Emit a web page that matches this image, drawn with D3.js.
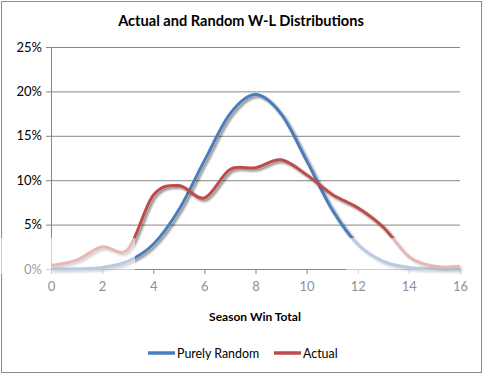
<!DOCTYPE html>
<html>
<head>
<meta charset="utf-8">
<script src="https://cdn.jsdelivr.net/npm/d3@7"></script>
<style>
body { margin: 0; background: #fff; }
svg { display: block; font-family: Lato, "Open Sans", sans-serif; }
</style>
</head>
<body>
<script>
var wins = [0, 1, 2, 3, 4, 5, 6, 7, 8, 9, 10, 11, 12, 13, 14, 15, 16];
var purelyRandom = [0.0, 0.02, 0.18, 0.85, 2.78, 6.67, 12.2, 17.46, 19.64, 17.46, 12.2, 6.67, 2.78, 0.85, 0.18, 0.02, 0.0];
var actual = [0.4, 1.0, 2.5, 2.2, 8.3, 9.4, 8.0, 11.2, 11.4, 12.3, 10.6, 8.4, 6.9, 4.7, 1.4, 0.3, 0.3];
var xTicks = [0, 2, 4, 6, 8, 10, 12, 14, 16];
var yTicks = [0, 5, 10, 15, 20, 25];

var width = 483;
var height = 375;
var padding = { top: 47, right: 23, bottom: 106, left: 51 };

var svg = d3.select("body")
    .append("svg")
    .attr("width", width)
    .attr("height", height);

var defs = svg.append("defs");
var shadow = defs.append("filter")
    .attr("id", "shadow")
    .attr("x", "-10%").attr("y", "-10%")
    .attr("width", "130%").attr("height", "130%");
shadow.append("feGaussianBlur").attr("in", "SourceAlpha").attr("stdDeviation", 1.3).attr("result", "blur");
shadow.append("feOffset").attr("in", "blur").attr("dx", 2).attr("dy", 2).attr("result", "off");
shadow.append("feComponentTransfer").attr("in", "off").attr("result", "soft")
    .append("feFuncA").attr("type", "linear").attr("slope", 0.45);
var merge = shadow.append("feMerge");
merge.append("feMergeNode").attr("in", "soft");
merge.append("feMergeNode").attr("in", "SourceGraphic");

// outer border
svg.append("rect")
    .attr("x", 1.5).attr("y", 1.5)
    .attr("width", 480).attr("height", 371)
    .attr("fill", "#fff")
    .attr("stroke", "#8a8a8a");

var xScale = d3.scaleLinear()
    .domain([0, 16])
    .range([padding.left, width - padding.right]);
var yScale = d3.scaleLinear()
    .domain([0, 25])
    .range([height - padding.bottom, padding.top]);

// title
svg.append("text")
    .attr("x", 241)
    .attr("y", 26)
    .attr("text-anchor", "middle")
    .attr("font-size", "14.6px")
    .attr("font-weight", "bold")
    .attr("fill", "#000")
    .text("Actual and Random W-L Distributions");

// y axis with gridlines
var yAxis = d3.axisLeft(yScale)
    .tickValues(yTicks)
    .tickSize(-(xScale(16) - xScale(0)))
    .tickPadding(9)
    .tickFormat(function(d) { return d + "%"; });
var yAxisG = svg.append("g")
    .attr("transform", "translate(" + padding.left + ",0)")
    .call(yAxis);
yAxisG.select(".domain").remove();
yAxisG.selectAll(".tick line")
    .attr("x1", -5)
    .attr("stroke", "#868686");
yAxisG.selectAll(".tick text")
    .attr("font-size", "13px")
    .attr("font-family", "Lato, sans-serif")
    .attr("fill", "#000");

// vertical axis line
svg.append("line")
    .attr("x1", padding.left + 0.5).attr("x2", padding.left + 0.5)
    .attr("y1", yScale(25)).attr("y2", yScale(0))
    .attr("stroke", "#868686");

// x axis
var xAxis = d3.axisBottom(xScale)
    .tickValues(xTicks)
    .tickSize(5)
    .tickPadding(8);
var xAxisG = svg.append("g")
    .attr("transform", "translate(0," + yScale(0) + ")")
    .call(xAxis);
xAxisG.select(".domain").attr("stroke", "#868686").attr("d", "M" + xScale(0) + ",0.5H" + xScale(16));
xAxisG.selectAll(".tick line").attr("stroke", "#868686");
xAxisG.selectAll(".tick text")
    .attr("font-size", "13px")
    .attr("font-family", "Lato, sans-serif")
    .attr("fill", "#8f8f9a");

svg.append("text")
    .attr("x", 255)
    .attr("y", 321)
    .attr("text-anchor", "middle")
    .attr("font-size", "12px")
    .attr("font-weight", "bold")
    .attr("fill", "#000")
    .text("Season Win Total");

// lines
var line = d3.line()
    .x(function(d, i) { return xScale(wins[i]); })
    .y(function(d) { return yScale(d); })
    .curve(d3.curveCardinal.tension(0));

var series = [
    { name: "Purely Random", values: purelyRandom, color: "#4a7ebb" },
    { name: "Actual", values: actual, color: "#be4b48" }
];

svg.selectAll("path.series")
    .data(series)
    .enter()
    .append("path")
    .attr("class", "series")
    .attr("d", function(d) { return line(d.values); })
    .attr("fill", "none")
    .attr("stroke", function(d) { return d.color; })
    .attr("stroke-width", 3)
    .attr("filter", "url(#shadow)");

// washed-out overlay areas seen in the picture
svg.append("rect").attr("x", 0).attr("y", 238).attr("width", 135).attr("height", 36)
    .attr("fill", "#fff").attr("opacity", 0.6);
svg.append("rect").attr("x", 346).attr("y", 238).attr("width", 130).attr("height", 36)
    .attr("fill", "#fff").attr("opacity", 0.6);

// legend
var legendX = [148, 274];
var legend = svg.selectAll("g.legend")
    .data(series)
    .enter()
    .append("g")
    .attr("class", "legend")
    .attr("transform", function(d, i) { return "translate(" + legendX[i] + ",353)"; });
legend.append("line")
    .attr("x1", 0).attr("x2", 27)
    .attr("y1", 0).attr("y2", 0)
    .attr("stroke", function(d) { return d.color; })
    .attr("stroke-width", 3.5);
legend.append("text")
    .attr("x", 29)
    .attr("y", 4.5)
    .attr("font-size", "12.4px")
    .attr("fill", "#000")
    .text(function(d) { return d.name; });
</script>
</body>
</html>
